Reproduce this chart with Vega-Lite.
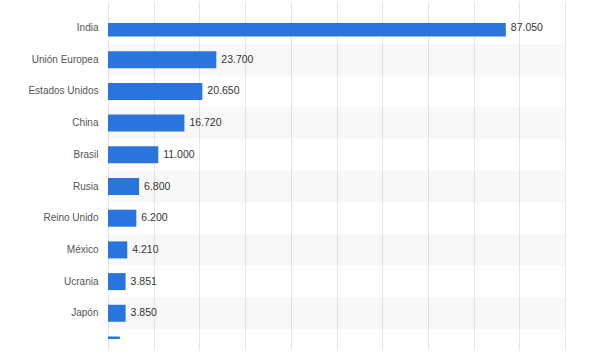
{
  "$schema": "https://vega.github.io/schema/vega-lite/v6.json",
  "autosize": {"type": "none"},
  "width": 457,
  "height": 316,
  "padding": {"left": 108, "top": 23, "right": 35, "bottom": 24},
  "background": "white",
  "config": {
    "view": {"stroke": null},
    "locale": {"number": {"decimal": ",", "thousands": ".", "grouping": [3], "currency": ["", " €"]}}
  },
  "data": {"values": [
    {"pais": "India", "valor": 87050, "franja": 0},
    {"pais": "Unión Europea", "valor": 23700, "franja": 1},
    {"pais": "Estados Unidos", "valor": 20650, "franja": 0},
    {"pais": "China", "valor": 16720, "franja": 1},
    {"pais": "Brasil", "valor": 11000, "franja": 0},
    {"pais": "Rusia", "valor": 6800, "franja": 1},
    {"pais": "Reino Unido", "valor": 6200, "franja": 0},
    {"pais": "México", "valor": 4210, "franja": 1},
    {"pais": "Ucrania", "valor": 3851, "franja": 0},
    {"pais": "Japón", "valor": 3850, "franja": 1},
    {"pais": "Otro", "valor": 2600, "franja": 0}
  ]},
  "encoding": {
    "y": {
      "field": "pais", "type": "nominal", "sort": null, "title": null,
      "scale": {
        "domain": ["India", "Unión Europea", "Estados Unidos", "China", "Brasil", "Rusia", "Reino Unido", "México", "Ucrania", "Japón", "Otro"],
        "range": [-10.85, 337.85], "paddingInner": 0, "paddingOuter": 0
      },
      "axis": {
        "domain": false, "ticks": false, "labelPadding": 10,
        "labelFont": "Liberation Sans", "labelFontSize": 10, "labelColor": "#555555",
        "values": ["India", "Unión Europea", "Estados Unidos", "China", "Brasil", "Rusia", "Reino Unido", "México", "Ucrania", "Japón"]
      }
    }
  },
  "layer": [
    {
      "transform": [{"filter": "datum.franja == 1"}],
      "mark": {"type": "rect", "fill": "#000000", "opacity": 0.028, "clip": true},
      "encoding": {
        "x": {"datum": 0, "type": "quantitative"},
        "x2": {"datum": 100000}
      }
    },
    {
      "mark": {"type": "bar", "color": "#2a75dd", "size": 17, "clip": true},
      "encoding": {
        "x": {
          "field": "valor", "type": "quantitative", "title": null,
          "scale": {"domain": [0, 100000], "nice": false},
          "axis": {
            "values": [0, 10000, 20000, 30000, 40000, 50000, 60000, 70000, 80000, 90000, 100000],
            "labels": false, "ticks": false, "domain": false,
            "grid": true, "gridColor": "#e6e6e6", "gridWidth": 1
          }
        }
      }
    },
    {
      "mark": {"type": "text", "align": "left", "dx": 5, "font": "Liberation Sans", "fontSize": 10.5, "color": "#333333", "clip": true},
      "encoding": {
        "x": {"field": "valor", "type": "quantitative"},
        "text": {"field": "valor", "type": "quantitative", "format": ",d"}
      }
    },
    {
      "mark": {"type": "rule", "color": "#555555", "strokeWidth": 1},
      "encoding": {"x": {"datum": 0, "type": "quantitative"}}
    }
  ]
}
